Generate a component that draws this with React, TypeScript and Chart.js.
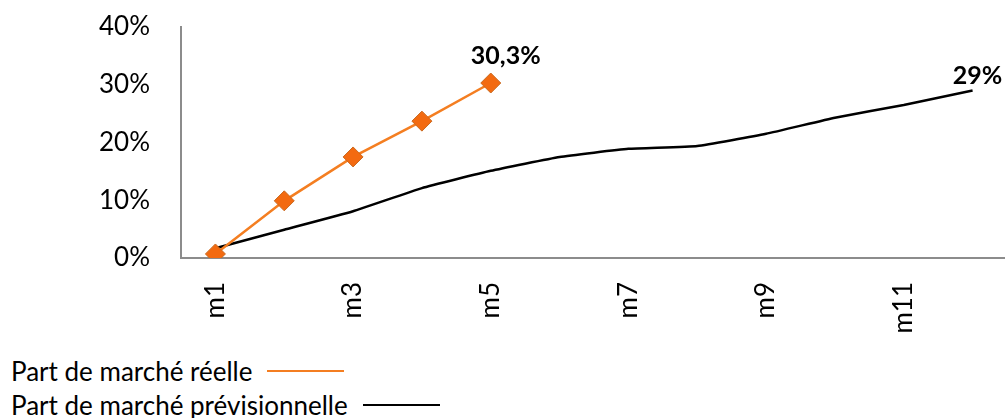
import React, { useEffect, useRef } from "react";
import { Chart, registerables } from "chart.js";

Chart.register(...registerables);

// Months m1..m12
const months = ["m1", "m2", "m3", "m4", "m5", "m6", "m7", "m8", "m9", "m10", "m11", "m12"];

// Actual market share (%), first five months
const actualShare = [0.7, 9.9, 17.5, 23.7, 30.3];

// Forecast market share (%), full year
const forecastShare = [1.7, 4.9, 8.1, 12.1, 15.1, 17.5, 18.9, 19.4, 21.5, 24.3, 26.5, 29];

// Y axis ticks (%)
const yTicks = [0, 10, 20, 30, 40];

const seriesNames = ["Part de marché réelle", "Part de marché prévisionnelle"];
const endLabels = ["30,3%", "29%"];

const ORANGE = "#F47E21";
const BLACK = "#000000";
const FONT = "Lato, 'Open Sans', sans-serif";

// Writes the value label next to the last point of each series
const endLabelPlugin = {
  id: "endLabels",
  afterDatasetsDraw(chart: any, _args: any, opts: any) {
    const ctx = chart.ctx;
    ctx.save();
    ctx.font = `bold ${opts.size}px ${FONT}`;
    ctx.fillStyle = "#000";
    ctx.textAlign = "center";
    ctx.textBaseline = "middle";
    chart.data.datasets.forEach((ds: any, i: number) => {
      const meta = chart.getDatasetMeta(i);
      const last = meta.data[meta.data.length - 1];
      if (!last) return;
      const off = opts.offsets[i];
      ctx.fillText(endLabels[i], last.x + off[0], last.y + off[1]);
    });
    ctx.restore();
  },
};

export default function App() {
  const canvasRef = useRef<HTMLCanvasElement | null>(null);

  useEffect(() => {
    if (!canvasRef.current) return;
    const chart = new Chart(canvasRef.current, {
      type: "line",
      data: {
        labels: months,
        datasets: [
          {
            label: seriesNames[0],
            data: actualShare,
            borderColor: ORANGE,
            borderWidth: 2.5,
            pointStyle: "rectRot",
            pointRadius: 10,
            pointBackgroundColor: "#F36A10",
            pointBorderColor: "#C9691F",
            pointBorderWidth: 1,
            tension: 0,
          },
          {
            label: seriesNames[1],
            data: forecastShare,
            borderColor: BLACK,
            borderWidth: 2.5,
            pointRadius: 0,
            tension: 0.12,
          },
        ],
      },
      options: {
        animation: false,
        responsive: false,
        layout: { padding: { top: 27, right: 0, left: 0, bottom: 0 } },
        plugins: {
          legend: { display: false },
          tooltip: { enabled: false },
          endLabels: { size: 25, offsets: [[15, -27], [5, -15]] },
        } as any,
        scales: {
          x: {
            offset: true,
            grid: { display: false, drawTicks: false },
            border: { display: true, color: "#8c8c8c", width: 2 },
            ticks: {
              autoSkip: false,
              maxRotation: 90,
              minRotation: 90,
              padding: 24,
              color: "#000",
              font: { family: FONT, size: 26 },
              callback: (_v: any, i: number) => (i % 2 === 0 ? months[i] : ""),
            },
            afterFit: (s: any) => {
              s.height = 87;
              s.paddingLeft = 0;
              s.paddingRight = 0;
            },
          },
          y: {
            min: yTicks[0],
            max: yTicks[yTicks.length - 1],
            afterBuildTicks: (s: any) => {
              s.ticks = yTicks.map((v) => ({ value: v }));
            },
            grid: { display: false, drawTicks: false },
            border: { display: true, color: "#8c8c8c", width: 2 },
            ticks: {
              padding: 31,
              color: "#000",
              font: { family: FONT, size: 26 },
              callback: (v: any) => `${v}%`,
            },
            afterFit: (s: any) => {
              s.width = 181;
              s.paddingTop = 0;
              s.paddingBottom = 0;
            },
          },
        },
      },
      plugins: [endLabelPlugin],
    });
    return () => chart.destroy();
  }, []);

  const legendRow = (name: string, color: string, top: number) => (
    <div
      style={{
        position: "absolute",
        left: 11,
        top,
        display: "flex",
        alignItems: "center",
        fontFamily: FONT,
        fontSize: 26,
        color: "#000",
        whiteSpace: "nowrap",
        lineHeight: "32px",
      }}
    >
      <span>{name}</span>
      <span
        style={{
          display: "inline-block",
          width: 77,
          height: 2,
          marginLeft: 15,
          background: color,
        }}
      />
    </div>
  );

  return (
    <div
      style={{
        position: "absolute",
        left: 0,
        top: 0,
        width: 1005,
        height: 418,
        overflow: "hidden",
        background: "#fff",
      }}
    >
      <canvas ref={canvasRef} width={1018} height={345} style={{ display: "block" }} />
      {legendRow(seriesNames[0], ORANGE, 355)}
      {legendRow(seriesNames[1], BLACK, 389)}
    </div>
  );
}
